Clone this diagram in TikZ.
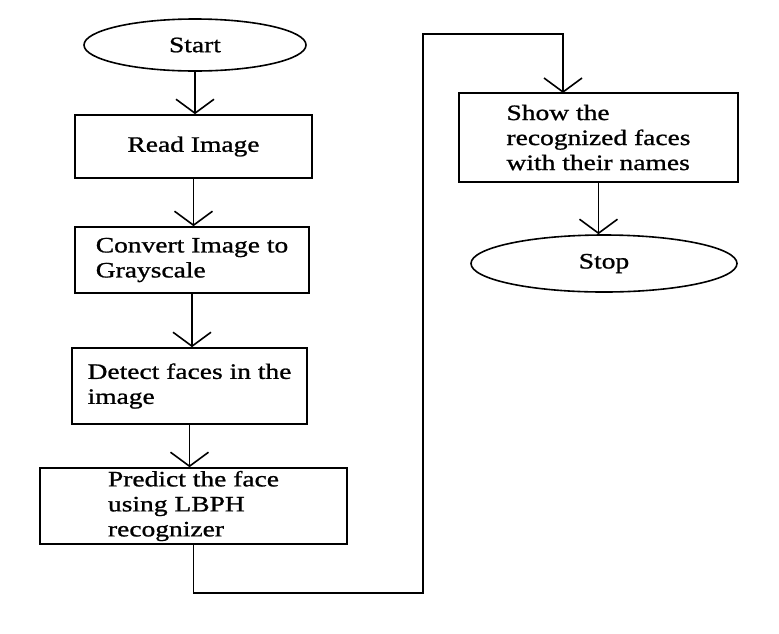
\documentclass[tikz,border=0pt]{standalone}
\usepackage{fontspec}
\setmainfont{Liberation Serif}[FakeStretch=1.25,FakeBold=1]
\usetikzlibrary{shapes.geometric,arrows.meta}
\begin{document}
\begin{tikzpicture}[x=0.5pt,y=-0.5pt,line width=0.8pt,
	font=\fontsize{11}{12.5}\selectfont,
	terminal/.style={draw,ellipse,inner sep=0pt},
	stepbox/.style={draw,rectangle,align=left,inner sep=0pt},
	flow/.style={-{Straight Barb[length=7pt,width=19pt]}}]

	\useasboundingbox (0,0) rectangle (779,633);

	% left column
	\node[terminal,minimum width=111pt,minimum height=26pt] (start) at (195,45) {Start};
	\node[stepbox,minimum width=118.5pt,minimum height=31.5pt] (read) at (193.5,146.5) {Read Image};
	\node[stepbox,minimum width=117pt,minimum height=33pt] (gray) at (192,260) {Convert Image to\\Grayscale};
	\node[stepbox,minimum width=117.5pt,minimum height=38pt] (detect) at (189.5,386) {Detect faces in the\\image};
	\node[stepbox,minimum width=153.5pt,minimum height=38pt] (predict) at (193.5,506) {Predict the face\\using LBPH\\recognizer};

	% right column
	\node[stepbox,minimum width=139.5pt,minimum height=44.5pt] (show) at (598.5,137.5) {Show the\\recognized faces\\with their names};
	\node[terminal,minimum width=133pt,minimum height=28.5pt] (stop) at (604,263.5) {Stop};

	% connectors
	\draw[flow] (start.south) -- (start.south |- read.north);
	\draw[flow] (read.south) -- (read.south |- gray.north);
	\draw[flow] (gray.south) -- (gray.south |- detect.north);
	\draw[flow] (detect.south) -- (detect.south |- predict.north);

	\coordinate (low) at (423,593);
	\coordinate (high) at (423,34);
	\coordinate (entry) at (563,93);
	\draw[flow] (predict.south) |- (low) -- (high) -| (entry);

	\draw[flow] (show.south) -- (show.south |- stop.north);
\end{tikzpicture}
\end{document}
